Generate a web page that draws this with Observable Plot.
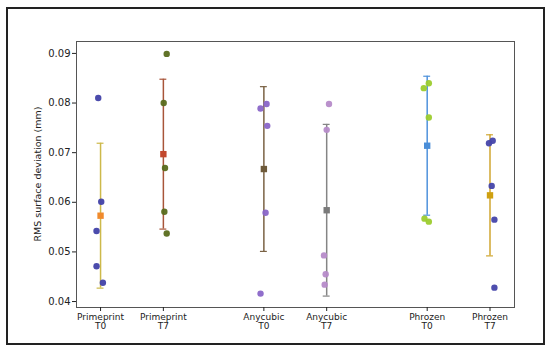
<!DOCTYPE html>
<html>
<head>
<meta charset="utf-8">
<script src="https://cdn.jsdelivr.net/npm/d3@7"></script>
<script src="https://cdn.jsdelivr.net/npm/@observablehq/plot@0.6"></script>
<style>
  html, body { margin: 0; padding: 0; background: #fff; }
  #wrap { position: relative; width: 550px; height: 349px; overflow: hidden; }
  #border { position: absolute; left: 6px; top: 7px; width: 535px; height: 334px; border: 2px solid #222; }
  #chart { position: absolute; left: 0; top: 0; }
</style>
</head>
<body>
<div id="wrap"><div id="border"></div><div id="chart"></div></div>
<script>
// ---- data ----
const brands = ["Primeprint", "Primeprint", "Anycubic", "Anycubic", "Phrozen", "Phrozen"];
const times = ["T0", "T7", "T0", "T7", "T0", "T7"];
const means = [0.0573, 0.0697, 0.0667, 0.0584, 0.0714, 0.0614];
const errs = [0.0146, 0.0151, 0.0166, 0.0173, 0.0140, 0.0122];
const samples = [
  [0.0810, 0.0601, 0.0542, 0.0471, 0.0438],
  [0.0899, 0.0800, 0.0669, 0.0581, 0.0537],
  [0.0798, 0.0789, 0.0754, 0.0579, 0.0416],
  [0.0798, 0.0746, 0.0493, 0.0455, 0.0434],
  [0.0840, 0.0830, 0.0771, 0.0567, 0.0561],
  [0.0724, 0.0719, 0.0633, 0.0565, 0.0428]
];
const jitter = [
  [-0.037, 0.011, -0.064, -0.064, 0.037],
  [0.053, 0.005, 0.026, 0.016, 0.053],
  [0.043, -0.053, 0.054, 0.027, -0.053],
  [0.037, 0.0, -0.043, -0.016, -0.032],
  [0.026, -0.054, 0.026, -0.043, 0.026],
  [0.043, -0.016, 0.027, 0.07, 0.07]
];
const yTicks = [0.04, 0.05, 0.06, 0.07, 0.08, 0.09];
const yLabel = "RMS surface deviation (mm)";

// ---- styles ----
const pointColors = ["#4141a8", "#596b1c", "#8a66c8", "#b68bc9", "#9ccc2e", "#4444aa"];
const barColors = ["#cdb94a", "#a8553a", "#7a6244", "#858585", "#4f92dc", "#d0a630"];
const meanColors = ["#f08a2c", "#c2472c", "#6e5a3a", "#7a7a7a", "#4a8ed8", "#cfa010"];

// layout: groups spaced by 2.6, pair members by 1
const groupOrder = ["Primeprint", "Anycubic", "Phrozen"];
const xPos = brands.map((b, i) => groupOrder.indexOf(b) * 2.6 + (times[i] === "T7" ? 1 : 0));
const labels = brands.map((b, i) => b + "\n" + times[i]);

const summary = means.map((m, i) => ({i, x: xPos[i], mean: m, lo: m - errs[i], hi: m + errs[i]}));
const pts = samples.flatMap((arr, i) => arr.map((v, j) => ({i, x: xPos[i] + jitter[i][j], y: v})));

const capHalf = 0.055;
const W = 550, H = 349, ML = 76, MR = 36, MT = 41, MB = 42;

const chart = Plot.plot({
  width: W,
  height: H,
  marginLeft: ML,
  marginRight: MR,
  marginTop: MT,
  marginBottom: MB,
  style: {fontFamily: "'DejaVu Sans', sans-serif", fontSize: "9px", color: "#222", background: "transparent"},
  x: {domain: [-0.383, 6.59], label: null},
  y: {domain: [0.0388, 0.0924], label: null},
  marks: [
    Plot.frame({stroke: "#555", strokeWidth: 1}),
    // error bars (mean ± SD)
    Plot.ruleX(summary, {x: "x", y1: "lo", y2: "hi", stroke: (d) => barColors[d.i], strokeWidth: 1.5}),
    Plot.ruleY(summary, {y: "hi", x1: (d) => d.x - capHalf, x2: (d) => d.x + capHalf, stroke: (d) => barColors[d.i], strokeWidth: 1.2}),
    Plot.ruleY(summary, {y: "lo", x1: (d) => d.x - capHalf, x2: (d) => d.x + capHalf, stroke: (d) => barColors[d.i], strokeWidth: 1.2}),
    // individual samples
    Plot.dot(pts, {x: "x", y: "y", r: 3.2, fill: (d) => pointColors[d.i], fillOpacity: 0.95, stroke: "none"}),
    // means
    Plot.dot(summary, {x: "x", y: "mean", symbol: "square", r: 3.6, fill: (d) => meanColors[d.i], stroke: "none"}),
    Plot.axisY({ticks: yTicks, tickFormat: d3.format(".2f"), tickSize: 4, tickPadding: 2, fontSize: 10, label: null}),
    Plot.axisX({ticks: xPos, tickFormat: (d) => labels[xPos.indexOf(d)], tickSize: 4, tickPadding: 2, fontSize: 9, label: null})
  ]
});
d3.select(chart).append("text")
  .attr("transform", `translate(38,${MT + (H - MT - MB) / 2}) rotate(-90)`)
  .attr("text-anchor", "middle")
  .attr("dominant-baseline", "middle")
  .attr("font-size", 9.5)
  .attr("fill", "#222")
  .text(yLabel);
document.getElementById("chart").appendChild(chart);
</script>
</body>
</html>
